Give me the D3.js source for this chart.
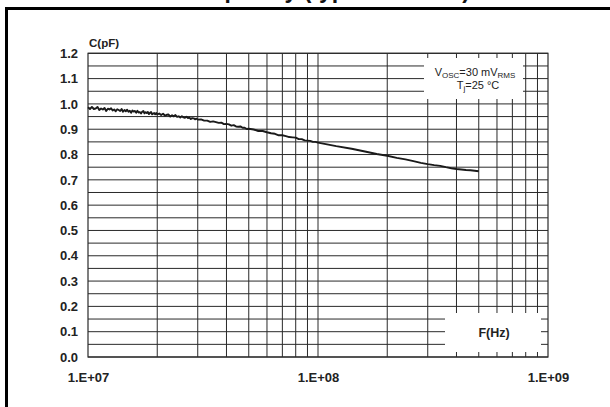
<!DOCTYPE html>
<html>
<head>
<meta charset="utf-8">
<script src="https://cdn.jsdelivr.net/npm/d3@7"></script>
<style>
  html, body { margin: 0; padding: 0; background: #fff; }
  svg { display: block; font-family: "Liberation Sans", Arial, sans-serif; }
</style>
</head>
<body>
<svg id="chart" width="610" height="407"></svg>
<script>
// ---- data (frequency in MHz, capacitance in pF) ----
const freqMHz = [
  10.0, 10.2, 10.4, 10.6, 10.8, 11.0, 11.2, 11.4, 11.6, 11.8, 12.0, 12.2, 12.4, 12.6, 12.8,
  13.0, 13.2, 13.4, 13.6, 13.8, 14.0, 14.2, 14.4, 14.6, 14.8, 15.0, 15.2, 15.4, 15.6, 15.8,
  16.0, 16.2, 16.4, 16.6, 16.8, 17.0, 17.2, 17.4, 17.6, 17.8, 18.0, 18.2, 18.4, 18.6, 18.8,
  19.0, 19.2, 19.4, 19.6, 19.8, 20.0,
  20.4, 20.8, 21.2, 21.6, 22.0, 22.4, 22.8, 23.2, 23.6, 24.0, 24.4, 24.8, 25.2, 25.6, 26.0,
  26.4, 26.8, 27.2, 27.6, 28.0, 28.4, 28.8, 29.2, 29.6, 30.0,
  31, 32, 33, 34, 35, 36, 37, 38, 39, 40, 41, 42, 43, 44, 45, 46, 47, 48, 49, 50,
  52.5, 55, 57.5, 60, 62.5, 65, 67.5, 70, 72.5, 75, 77.5, 80, 82.5, 85, 87.5, 90, 92.5, 95, 97.5, 100,
  120, 140, 160, 180, 200, 220, 240, 260, 280, 300, 320, 340, 360, 380, 400, 420, 440, 460, 480, 500];
const capPF = [
  0.987, 0.980, 0.988, 0.980, 0.982, 0.988, 0.976, 0.982, 0.978, 0.984, 0.972, 0.981, 0.978, 0.983, 0.974,
  0.978, 0.971, 0.979, 0.976, 0.972, 0.980, 0.969, 0.976, 0.971, 0.977, 0.969, 0.973, 0.965, 0.974, 0.970,
  0.972, 0.965, 0.973, 0.966, 0.968, 0.962, 0.969, 0.972, 0.963, 0.967, 0.964, 0.968, 0.960, 0.965, 0.968,
  0.959, 0.962, 0.964, 0.959, 0.964, 0.959,
  0.962, 0.956, 0.961, 0.954, 0.957, 0.958, 0.950, 0.955, 0.951, 0.956, 0.949, 0.951, 0.946, 0.951, 0.947,
  0.945, 0.949, 0.944, 0.946, 0.940, 0.944, 0.943, 0.939, 0.942, 0.938,
  0.939, 0.934, 0.934, 0.929, 0.931, 0.928, 0.925, 0.926, 0.920, 0.921, 0.919, 0.914, 0.916, 0.911, 0.910, 0.911, 0.906, 0.906, 0.901, 0.902,
  0.899, 0.893, 0.893, 0.888, 0.884, 0.882, 0.876, 0.876, 0.873, 0.869, 0.868, 0.867, 0.861, 0.861, 0.856, 0.855, 0.854, 0.850, 0.850, 0.847,
  0.833, 0.823, 0.812, 0.802, 0.795, 0.787, 0.781, 0.774, 0.767, 0.762, 0.758, 0.755, 0.750, 0.746, 0.743, 0.741, 0.739, 0.738, 0.736, 0.734];

const yTicks = [0, 0.1, 0.2, 0.3, 0.4, 0.5, 0.6, 0.7, 0.8, 0.9, 1.0, 1.1, 1.2];
const yGrid = [0, 0.05, 0.1, 0.15, 0.2, 0.25, 0.3, 0.35, 0.4, 0.45, 0.5, 0.55, 0.6, 0.65, 0.7, 0.75, 0.8, 0.85, 0.9, 0.95, 1.0, 1.05, 1.1, 1.15, 1.2];
const xTicks = [1e7, 1e8, 1e9];
const xTickLabels = ["1.E+07", "1.E+08", "1.E+09"];
const xGrid = [2e7, 3e7, 4e7, 5e7, 6e7, 7e7, 8e7, 9e7, 1e8, 2e8, 3e8, 4e8, 5e8, 6e8, 7e8, 8e8, 9e8];

const titleText = "Capacitance versus frequency (typical values)";
const yLabel = "C(pF)";
const xLabel = "F(Hz)";

// ---- layout ----
const svg = d3.select("#chart");
const L = 88, R = 548, T = 53.3, B = 357;
const x = d3.scaleLog().domain([1e7, 1e9]).range([L, R]);
const y = d3.scaleLinear().domain([0, 1.2]).range([B, T]);

// outer frame (only top and left edges fall inside the window)
svg.append("rect").attr("x", 6.5).attr("y", 8.5).attr("width", 800).attr("height", 600)
  .attr("fill", "none").attr("stroke", "#000").attr("stroke-width", 3);

// title, cropped by the window top as in the reference
const title = svg.append("text").attr("y", -2.2)
  .attr("font-size", 23).attr("font-weight", "bold").attr("fill", "#111")
  .text(titleText);
{
  const tmp = svg.append("text").attr("font-size", 23).attr("font-weight", "bold").text("Capacitance versus ");
  const pre = tmp.node().getComputedTextLength();
  tmp.remove();
  title.attr("x", 181 - pre);
}

// grid
const g = svg.append("g");
g.selectAll("line.h").data(yGrid).join("line")
  .attr("x1", L).attr("x2", R).attr("y1", d => y(d)).attr("y2", d => y(d))
  .attr("stroke", "#2a2a2a").attr("stroke-width", 1);
g.selectAll("line.v").data(xGrid).join("line")
  .attr("x1", d => x(d)).attr("x2", d => x(d)).attr("y1", T).attr("y2", B)
  .attr("stroke", "#2a2a2a").attr("stroke-width", 1);
g.append("rect").attr("x", L).attr("y", T).attr("width", R - L).attr("height", B - T)
  .attr("fill", "none").attr("stroke", "#2a2a2a").attr("stroke-width", 1.2);

// white annotation boxes
svg.append("rect").attr("x", 424).attr("y", 58).attr("width", 99).attr("height", 41).attr("fill", "#fff");
svg.append("rect").attr("x", 445).attr("y", 313).attr("width", 96).attr("height", 39).attr("fill", "#fff");

// curve
const pts = freqMHz.map((f, i) => [f * 1e6, capPF[i]]);
svg.append("path").datum(pts)
  .attr("d", d3.line().x(d => x(d[0])).y(d => y(d[1])))
  .attr("fill", "none").attr("stroke", "#1a1a1a").attr("stroke-width", 1.9).attr("stroke-linejoin", "round");

// axes (labels only)
const yAxis = svg.append("g").attr("transform", `translate(${L},0)`)
  .call(d3.axisLeft(y).tickValues(yTicks).tickFormat(d3.format(".1f")).tickSize(0).tickPadding(10));
const xAxis = svg.append("g").attr("transform", `translate(0,${B})`)
  .call(d3.axisBottom(x).tickValues(xTicks).tickFormat((d, i) => xTickLabels[i]).tickSize(0).tickPadding(16));
[yAxis, xAxis].forEach(a => {
  a.select(".domain").remove();
  a.selectAll("text").attr("font-size", 13).attr("font-weight", "bold").attr("fill", "#222")
    .attr("font-family", "Liberation Sans, Arial, sans-serif");
});

// axis titles
svg.append("text").attr("x", 89).attr("y", 46.5).attr("font-size", 11.5).attr("font-weight", "bold")
  .attr("fill", "#222").text(yLabel);
svg.append("text").attr("x", 494).attr("y", 337).attr("text-anchor", "middle")
  .attr("font-size", 12.5).attr("font-weight", "bold").attr("fill", "#222").text(xLabel);

// conditions legend
const t1 = svg.append("text").attr("x", 475).attr("y", 76).attr("text-anchor", "middle")
  .attr("font-size", 11).attr("fill", "#222");
t1.append("tspan").text("V");
t1.append("tspan").attr("font-size", 8).attr("dy", 2).text("OSC");
t1.append("tspan").attr("dy", -2).text("=30 mV");
t1.append("tspan").attr("font-size", 8).attr("dy", 2).text("RMS");
const t2 = svg.append("text").attr("x", 478).attr("y", 88.5).attr("text-anchor", "middle")
  .attr("font-size", 11).attr("fill", "#222");
t2.append("tspan").text("T");
t2.append("tspan").attr("font-size", 8).attr("dy", 2).text("j");
t2.append("tspan").attr("dy", -2).text("=25 °C");
</script>
</body>
</html>
